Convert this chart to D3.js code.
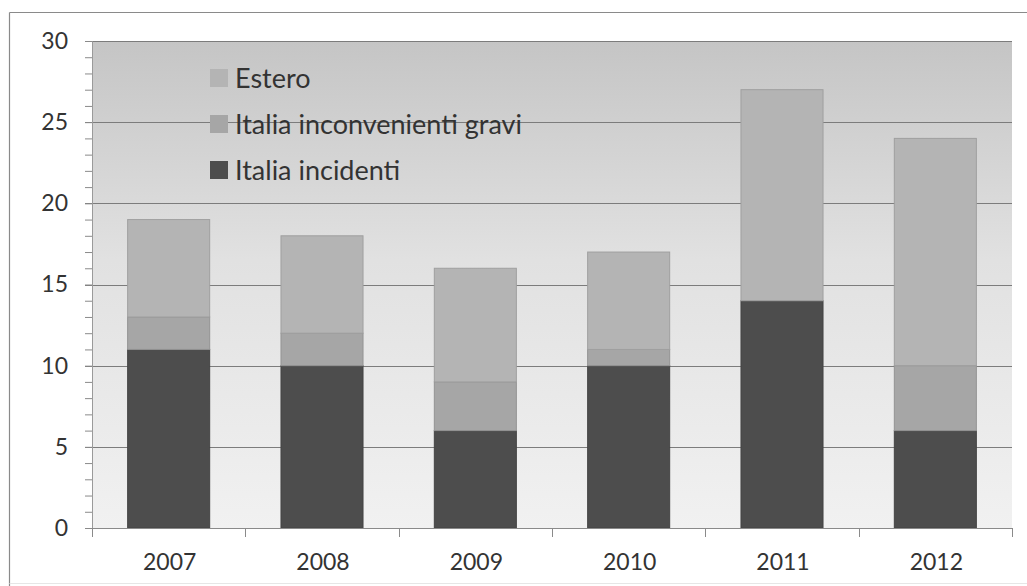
<!DOCTYPE html>
<html>
<head>
<meta charset="utf-8">
<script src="https://cdn.jsdelivr.net/npm/d3@7"></script>
<style>
  html, body { margin: 0; padding: 0; background: #ffffff; }
  svg { display: block; }
  text { font-family: Lato, "Open Sans", sans-serif; fill: #333333; }
</style>
</head>
<body>
<svg id="chart" width="1027" height="586"></svg>
<script>
// Eventi per anno
const years = ["2007", "2008", "2009", "2010", "2011", "2012"];
const italiaIncidenti = [11, 10, 6, 10, 14, 6];
const italiaGravi = [2, 2, 3, 1, 0, 4];
const estero = [6, 6, 7, 6, 13, 14];
const yTickValues = [0, 5, 10, 15, 20, 25, 30];

const seriesNames = ["Italia incidenti", "Italia inconvenienti gravi", "Estero"];
const seriesColors = ["#4d4d4d", "#a6a6a6", "#b4b4b4"];

const svg = d3.select("#chart");
const W = 1027, H = 586;
const plot = { left: 92, right: 1012, top: 41, bottom: 528 };

// outer frame: top and left edges visible, faint bottom edge
svg.append("line")
  .attr("x1", 9.5).attr("x2", W).attr("y1", 12.5).attr("y2", 12.5)
  .attr("stroke", "#8a8a8a").attr("stroke-width", 1.2);
svg.append("line")
  .attr("x1", 9.5).attr("x2", 9.5).attr("y1", 12.5).attr("y2", H)
  .attr("stroke", "#8a8a8a").attr("stroke-width", 1.2);
svg.append("line")
  .attr("x1", 9.5).attr("x2", W).attr("y1", 583.5).attr("y2", 583.5)
  .attr("stroke", "#e6e6e6").attr("stroke-width", 1);

// plot background gradient
const defs = svg.append("defs");
const grad = defs.append("linearGradient")
  .attr("id", "bg").attr("x1", 0).attr("y1", 0).attr("x2", 0).attr("y2", 1);
grad.append("stop").attr("offset", "0%").attr("stop-color", "#c5c5c5");
grad.append("stop").attr("offset", "45%").attr("stop-color", "#e1e1e1");
grad.append("stop").attr("offset", "100%").attr("stop-color", "#f1f1f1");

svg.append("rect")
  .attr("x", plot.left).attr("y", plot.top)
  .attr("width", plot.right - plot.left).attr("height", plot.bottom - plot.top)
  .attr("fill", "url(#bg)");

// scales
const x = d3.scaleBand()
  .domain(years)
  .range([plot.left, plot.right])
  .paddingInner(0.465)
  .paddingOuter(0.2325);

const y = d3.scaleLinear().domain([0, 30]).range([plot.bottom, plot.top]);

// gridlines
svg.append("g")
  .selectAll("line")
  .data(yTickValues.filter(v => v > 0))
  .join("line")
  .attr("x1", plot.left - 7).attr("x2", plot.right)
  .attr("y1", d => Math.round(y(d)) + 0.5).attr("y2", d => Math.round(y(d)) + 0.5)
  .attr("stroke", "#7c7c7c").attr("stroke-width", 1);

// stacked bars
const rows = years.map((yr, i) => ({
  year: yr,
  "Italia incidenti": italiaIncidenti[i],
  "Italia inconvenienti gravi": italiaGravi[i],
  "Estero": estero[i]
}));
const stacked = d3.stack().keys(seriesNames)(rows);

svg.append("g")
  .selectAll("g")
  .data(stacked)
  .join("g")
  .attr("fill", (d, i) => seriesColors[i])
  .attr("stroke", (d, i) => d3.color(seriesColors[i]).darker(0.35))
  .attr("stroke-width", 1)
  .selectAll("rect")
  .data(d => d.filter(s => s[1] - s[0] > 0))
  .join("rect")
  .attr("x", d => x(d.data.year))
  .attr("width", x.bandwidth())
  .attr("y", d => y(d[1]))
  .attr("height", d => y(d[0]) - y(d[1]));

// y axis
const yAxis = d3.axisLeft(y)
  .tickValues(d3.range(0, 31, 1))
  .tickSize(7)
  .tickFormat(d => yTickValues.includes(d) ? d : "");
const gy = svg.append("g")
  .attr("transform", `translate(${plot.left},0)`)
  .call(yAxis);
gy.select(".domain").attr("stroke", "#9a9a9a");
gy.selectAll(".tick line").attr("stroke", "#8a8a8a");
gy.selectAll(".tick text")
  .attr("x", -24)
  .attr("font-size", 23)
  .attr("fill", "#333333")
  .style("font-family", "Lato, 'Open Sans', sans-serif");

// x axis
const gx = svg.append("g")
  .attr("transform", `translate(0,${plot.bottom})`);
gx.append("line")
  .attr("x1", plot.left).attr("x2", plot.right)
  .attr("y1", 0.5).attr("y2", 0.5)
  .attr("stroke", "#8a8a8a");
const bounds = years.map((yr, i) => plot.left + i * x.step());
bounds.push(plot.right);
gx.selectAll("line.tk")
  .data(bounds)
  .join("line")
  .attr("class", "tk")
  .attr("x1", d => Math.round(d) + 0.5).attr("x2", d => Math.round(d) + 0.5)
  .attr("y1", 0).attr("y2", 9)
  .attr("stroke", "#8a8a8a");
gx.selectAll("text")
  .data(years)
  .join("text")
  .attr("x", d => x(d) + x.bandwidth() / 2 + 1)
  .attr("y", 34)
  .attr("dy", "0.35em")
  .attr("text-anchor", "middle")
  .attr("font-size", 23)
  .text(d => d);

// legend
const legendOrder = ["Estero", "Italia inconvenienti gravi", "Italia incidenti"];
const legend = svg.append("g");
legendOrder.forEach((name, i) => {
  const cy = 78 + i * 46;
  const c = seriesColors[seriesNames.indexOf(name)];
  legend.append("rect")
    .attr("x", 210).attr("y", cy - 9)
    .attr("width", 18).attr("height", 18)
    .attr("fill", c);
  legend.append("text")
    .attr("x", 235).attr("y", cy)
    .attr("dy", "0.36em")
    .attr("font-size", 27)
    .text(name);
});
</script>
</body>
</html>
